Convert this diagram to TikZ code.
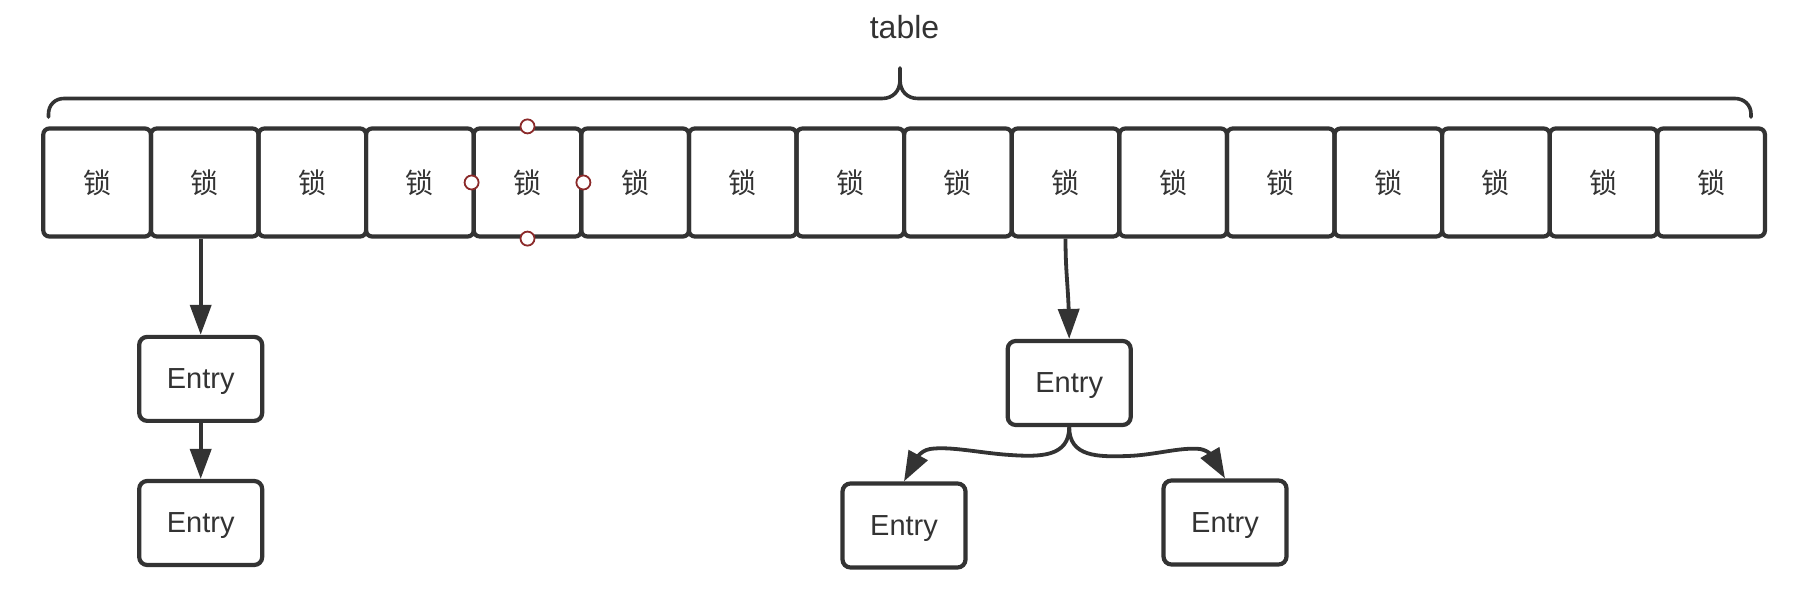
\documentclass[tikz,border=0pt]{standalone}
\usepackage{fontspec}
\setmainfont{Liberation Sans}
\newfontfamily\cjkfont{Noto Sans CJK SC}
\usetikzlibrary{arrows.meta,bending}
\definecolor{ink}{HTML}{333333}
\definecolor{handlered}{HTML}{8B2A2A}
\begin{document}
\begin{tikzpicture}[x=0.5pt,y=-0.5pt,
  cellbox/.style={draw=ink, line width=2.1pt, rounded corners=3pt,
    minimum width=53.8pt, minimum height=54pt, inner sep=0pt,
    font=\cjkfont\fontsize{14}{16}\selectfont, text=ink},
  entrybox/.style={draw=ink, line width=2.1pt, rounded corners=4pt,
    minimum width=61.5pt, minimum height=42pt, inner sep=0pt, text depth=0pt,
    font=\fontsize{14.5}{17}\selectfont, text=ink},
  handle/.style={circle, draw=handlered, fill=white, line width=0.9pt,
    minimum size=7pt, inner sep=0pt},
  link/.style={draw=ink, line width=1.9pt, -{Triangle[length=15pt,width=10.5pt]}},
  bracepath/.style={draw=ink, line width=1.8pt, line join=round, line cap=round}]
\useasboundingbox (0,0) rectangle (1804,608);

% title
\node[font=\fontsize{16}{19}\selectfont, text=ink, anchor=base, inner sep=0pt] (title) at (904.5,39) {table};

% brace
\draw[bracepath] (48.5,117) -- (48.5,114) .. controls (48.5,105) and (55,98.5) .. (64,98.5)
  -- (882,98.5) .. controls (893,98.5) and (900,91) .. (900,80) -- (900,68)
  -- (900,80) .. controls (900,91) and (907,98.5) .. (918,98.5)
  -- (1735,98.5) .. controls (1744,98.5) and (1751,105) .. (1751,114) -- (1751,117);

% table cells
\foreach \i in {1,...,16}
  \node[cellbox] (c\i) at ({43.3+107.6*(\i-0.5)},182.5) {锁};

% selection handles on cell 5
\node[handle] (hT) at (c5.north) {};
\node[handle] (hB) at (c5.south) {};
\node[handle] (hL) at (c5.west) {};
\node[handle] (hR) at (c5.east) {};

% entries
\node[entrybox] (e1) at (200.7,378.9) {Entry};
\node[entrybox] (e2) at (200.7,523) {Entry};
\node[entrybox] (e3) at (1069.2,383) {Entry};
\node[entrybox] (e4) at (904,525.5) {Entry};
\node[entrybox] (e5) at (1225,522.5) {Entry};

% connectors
\draw[link] (e1.north |- c2.south) -- (e1.north);
\draw[link] (e1.south) -- (e2.north);
\draw[link] (c10.south) .. controls +(0,40) and +(0,-50) .. (e3.north);

\coordinate (la) at (1010,455);
\coordinate (lb) at (930,449);
\coordinate (ra) at (1128,456);
\coordinate (rb) at (1200,449);

\draw[link] (e3.south) .. controls +(0,30) and (1040,457) .. (la)
  .. controls (980,453) and (950,446) .. (lb)
  .. controls (918,451) and (910,465) .. (e4.north);
\draw[link] (e3.south) .. controls +(0,30) and (1098,457) .. (ra)
  .. controls (1155,455) and (1180,447) .. (rb)
  .. controls (1212,451) and (1220,463) .. (e5.north);
\end{tikzpicture}
\end{document}
